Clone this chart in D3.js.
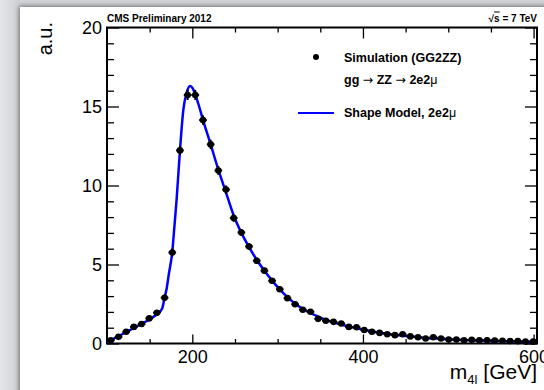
<!DOCTYPE html>
<html>
<head>
<meta charset="utf-8">
<script src="https://cdn.jsdelivr.net/npm/d3@7"></script>
<style>
body { margin: 0; background: #fff; }
svg { display: block; font-family: "Liberation Sans", Arial, Helvetica, sans-serif; }
.tick line { stroke: #000; stroke-width: 1.3; }
</style>
</head>
<body>
<svg id="chart" width="544" height="390"></svg>
<script>
// histogram bins (9 GeV wide, 100 - 604 GeV)
var binCenters = [104.5, 113.5, 122.5, 131.5, 140.5, 149.5, 158.5, 167.5, 176.5, 185.5,
    194.5, 203.5, 212.5, 221.5, 230.5, 239.5, 248.5, 257.5, 266.5, 275.5,
    284.5, 293.5, 302.5, 311.5, 320.5, 329.5, 338.5, 347.5, 356.5, 365.5,
    374.5, 383.5, 392.5, 401.5, 410.5, 419.5, 428.5, 437.5, 446.5, 455.5,
    464.5, 473.5, 482.5, 491.5, 500.5, 509.5, 518.5, 527.5, 536.5, 545.5,
    554.5, 563.5, 572.5, 581.5, 590.5, 599.5];
var binWidth = 9;

// simulation (GG2ZZ) points
var simValues = [0.21, 0.42, 0.74, 1.05, 1.23, 1.59, 1.95, 2.90, 5.76, 12.22,
    15.73, 15.73, 14.14, 12.60, 10.95, 9.74, 7.94, 7.03, 6.14, 5.24,
    4.61, 3.97, 3.43, 2.87, 2.48, 2.14, 2.01, 1.56, 1.44, 1.37,
    1.27, 1.05, 1.03, 0.85, 0.74, 0.67, 0.59, 0.53, 0.59, 0.45,
    0.40, 0.32, 0.40, 0.32, 0.25, 0.25, 0.21, 0.23, 0.21, 0.20,
    0.19, 0.17, 0.16, 0.15, 0.13, 0.12];
var simErrors = [0.08, 0.1, 0.12, 0.14, 0.14, 0.16, 0.17, 0.2, 0.25, 0.3,
    0.32, 0.32, 0.3, 0.3, 0.28, 0.26, 0.24, 0.22, 0.21, 0.2,
    0.18, 0.17, 0.16, 0.15, 0.14, 0.13, 0.13, 0.12, 0.11, 0.11,
    0.1, 0.1, 0.1, 0.09, 0.08, 0.08, 0.08, 0.07, 0.07, 0.07,
    0.06, 0.06, 0.06, 0.06, 0.05, 0.05, 0.05, 0.05, 0.05, 0.05,
    0.04, 0.04, 0.04, 0.04, 0.04, 0.04];

// shape model curve
var modelMass = [100, 104.5, 113.5, 122.5, 131.5, 140.5, 149.5, 158.5, 164.5, 167.5,
    170, 172.5, 176.5, 179, 181.7, 185.5, 189.5, 193.5, 197.5, 200.5,
    203.5, 208, 212.5, 221.5, 230.5, 239.5, 248.5, 257.5, 266.5, 275.5,
    284.5, 293.5, 302.5, 311.5, 320.5, 329.5, 338.5, 347.5, 356.5, 365.5,
    374.5, 383.5, 392.5, 410, 430, 450, 470, 490, 510, 530,
    560, 604];
var modelValues = [0.10, 0.22, 0.46, 0.73, 0.98, 1.24, 1.52, 1.85, 2.2, 2.9,
    3.5, 4.4, 5.8, 7.4, 9.2, 12.2, 14.8, 15.9, 16.3, 16.15,
    15.75, 15.0, 14.15, 12.6, 11.0, 9.55, 8.1, 7.0, 6.1, 5.3,
    4.6, 3.98, 3.42, 2.93, 2.52, 2.2, 1.93, 1.7, 1.5, 1.34,
    1.2, 1.07, 0.96, 0.78, 0.6, 0.47, 0.37, 0.3, 0.24, 0.19,
    0.14, 0.10];

var xMajor = [200, 400, 600];
var xMinor = [150, 250, 300, 350, 450, 500, 550];
var yMajor = [0, 5, 10, 15, 20];
var yMinor = [1, 2, 3, 4, 6, 7, 8, 9, 11, 12, 13, 14, 16, 17, 18, 19];

var frame = { left: 107, top: 27.5, right: 537, bottom: 343.5 };

var svg = d3.select("#chart");

// page background (slide edge with shadow)
var defs = svg.append("defs");
var gradLeft = defs.append("linearGradient").attr("id", "gl").attr("x1", 0).attr("x2", 1).attr("y1", 0).attr("y2", 0);
gradLeft.append("stop").attr("offset", "0%").attr("stop-color", "#e4e5e8");
gradLeft.append("stop").attr("offset", "100%").attr("stop-color", "#cfd0d4");
var shadow = defs.append("filter").attr("id", "sh").attr("x", "-10%").attr("y", "-10%").attr("width", "120%").attr("height", "120%");
shadow.append("feDropShadow").attr("dx", -1).attr("dy", -1).attr("stdDeviation", 2.5).attr("flood-color", "#555").attr("flood-opacity", 0.8);

svg.append("rect").attr("width", 544).attr("height", 390).attr("fill", "#d3d4d8");
svg.append("rect").attr("width", 20).attr("height", 390).attr("fill", "url(#gl)");
svg.append("rect").attr("x", 20).attr("y", 7).attr("width", 540).attr("height", 400)
    .attr("fill", "#fff").attr("filter", "url(#sh)");

var x = d3.scaleLinear().domain([100, 604]).range([frame.left, frame.right]);
var y = d3.scaleLinear().domain([0, 20]).range([frame.bottom, frame.top]);

function axisStyle(g) {
    g.select(".domain").remove();
    g.selectAll("text").attr("fill", "#000").style("font-size", "18px");
}

// bottom axis
svg.append("g").attr("transform", "translate(0," + frame.bottom + ")")
    .call(d3.axisBottom(x).tickValues(xMajor).tickSize(-9).tickPadding(7).tickFormat(d3.format("d")))
    .call(axisStyle);
svg.append("g").attr("transform", "translate(0," + frame.bottom + ")")
    .call(d3.axisBottom(x).tickValues(xMinor).tickSize(-4.5).tickFormat(""))
    .call(axisStyle);
// top axis
svg.append("g").attr("transform", "translate(0," + frame.top + ")")
    .call(d3.axisTop(x).tickValues(xMajor).tickSize(-11).tickFormat(""))
    .call(axisStyle);
svg.append("g").attr("transform", "translate(0," + frame.top + ")")
    .call(d3.axisTop(x).tickValues(xMinor).tickSize(-5).tickFormat(""))
    .call(axisStyle);
// left axis
svg.append("g").attr("transform", "translate(" + frame.left + ",0)")
    .call(d3.axisLeft(y).tickValues(yMajor).tickSize(-12).tickPadding(5))
    .call(axisStyle);
svg.append("g").attr("transform", "translate(" + frame.left + ",0)")
    .call(d3.axisLeft(y).tickValues(yMinor).tickSize(-7).tickFormat(""))
    .call(axisStyle);
// right axis
svg.append("g").attr("transform", "translate(" + frame.right + ",0)")
    .call(d3.axisRight(y).tickValues(yMajor).tickSize(-12).tickFormat(""))
    .call(axisStyle);
svg.append("g").attr("transform", "translate(" + frame.right + ",0)")
    .call(d3.axisRight(y).tickValues(yMinor).tickSize(-7).tickFormat(""))
    .call(axisStyle);

// frame
svg.append("rect")
    .attr("x", frame.left).attr("y", frame.top)
    .attr("width", frame.right - frame.left).attr("height", frame.bottom - frame.top)
    .attr("fill", "none").attr("stroke", "#000").attr("stroke-width", 2);

// model curve
var model = modelMass.map(function (m, i) { return [m, modelValues[i]]; });
var line = d3.line()
    .x(function (d) { return x(d[0]); })
    .y(function (d) { return y(d[1]); })
    .curve(d3.curveMonotoneX);
svg.append("path").datum(model)
    .attr("d", line)
    .attr("fill", "none").attr("stroke", "#0000ff").attr("stroke-width", 2.5);

// simulation points with error bars
var pts = binCenters.map(function (m, i) { return { m: m, v: simValues[i], e: simErrors[i] }; });
var pg = svg.append("g");
pg.selectAll(".hbar").data(pts).enter().append("line")
    .attr("x1", function (d) { return x(d.m - binWidth / 2); })
    .attr("x2", function (d) { return x(d.m + binWidth / 2); })
    .attr("y1", function (d) { return y(d.v); })
    .attr("y2", function (d) { return y(d.v); })
    .attr("stroke", "#000").attr("stroke-width", 2);
pg.selectAll(".vbar").data(pts).enter().append("line")
    .attr("x1", function (d) { return x(d.m); })
    .attr("x2", function (d) { return x(d.m); })
    .attr("y1", function (d) { return y(d.v - d.e); })
    .attr("y2", function (d) { return y(d.v + d.e); })
    .attr("stroke", "#000").attr("stroke-width", 2);
pg.selectAll("circle").data(pts).enter().append("circle")
    .attr("cx", function (d) { return x(d.m); })
    .attr("cy", function (d) { return y(d.v); })
    .attr("r", 3.3).attr("fill", "#000");

// header texts
svg.append("text").attr("x", 107).attr("y", 21.5)
    .attr("font-size", 10).attr("font-weight", "bold").text("CMS Preliminary 2012");
var rt = svg.append("text").attr("x", 537).attr("y", 21.5).attr("text-anchor", "end")
    .attr("font-size", 10).attr("font-weight", "bold");
rt.append("tspan").text("\u221A");
rt.append("tspan").style("text-decoration", "overline").text("s");
rt.append("tspan").text(" = 7 TeV");

// axis titles
svg.append("text")
    .attr("transform", "translate(52,22) rotate(-90)")
    .attr("text-anchor", "end").attr("font-size", 20).text("a.u.");
var xt = svg.append("text").attr("x", 537).attr("y", 379).attr("text-anchor", "end").attr("font-size", 21);
xt.append("tspan").text("m");
xt.append("tspan").attr("font-size", 13).attr("dy", 5).text("4l");
xt.append("tspan").attr("dy", -5).text(" [GeV]");

// legend
svg.append("circle").attr("cx", 316).attr("cy", 57).attr("r", 3).attr("fill", "#000");
svg.append("text").attr("x", 344).attr("y", 62).attr("font-size", 12.5).attr("font-weight", "bold")
    .text("Simulation (GG2ZZ)");
var l2 = svg.append("text").attr("x", 344).attr("y", 84).attr("font-size", 12.5).attr("font-weight", "bold");
l2.append("tspan").text("gg ");
l2.append("tspan").attr("font-weight", "normal").style("font-family", "DejaVu Sans").text("\u2192");
l2.append("tspan").text(" ZZ ");
l2.append("tspan").attr("font-weight", "normal").style("font-family", "DejaVu Sans").text("\u2192");
l2.append("tspan").text(" 2e2");
l2.append("tspan").attr("font-weight", "normal").text("\u03BC");
svg.append("line").attr("x1", 298).attr("x2", 334).attr("y1", 113).attr("y2", 113)
    .attr("stroke", "#0000ff").attr("stroke-width", 2);
var l3 = svg.append("text").attr("x", 344).attr("y", 117).attr("font-size", 12.5).attr("font-weight", "bold");
l3.append("tspan").text("Shape Model, 2e2");
l3.append("tspan").attr("font-weight", "normal").text("\u03BC");
</script>
</body>
</html>
